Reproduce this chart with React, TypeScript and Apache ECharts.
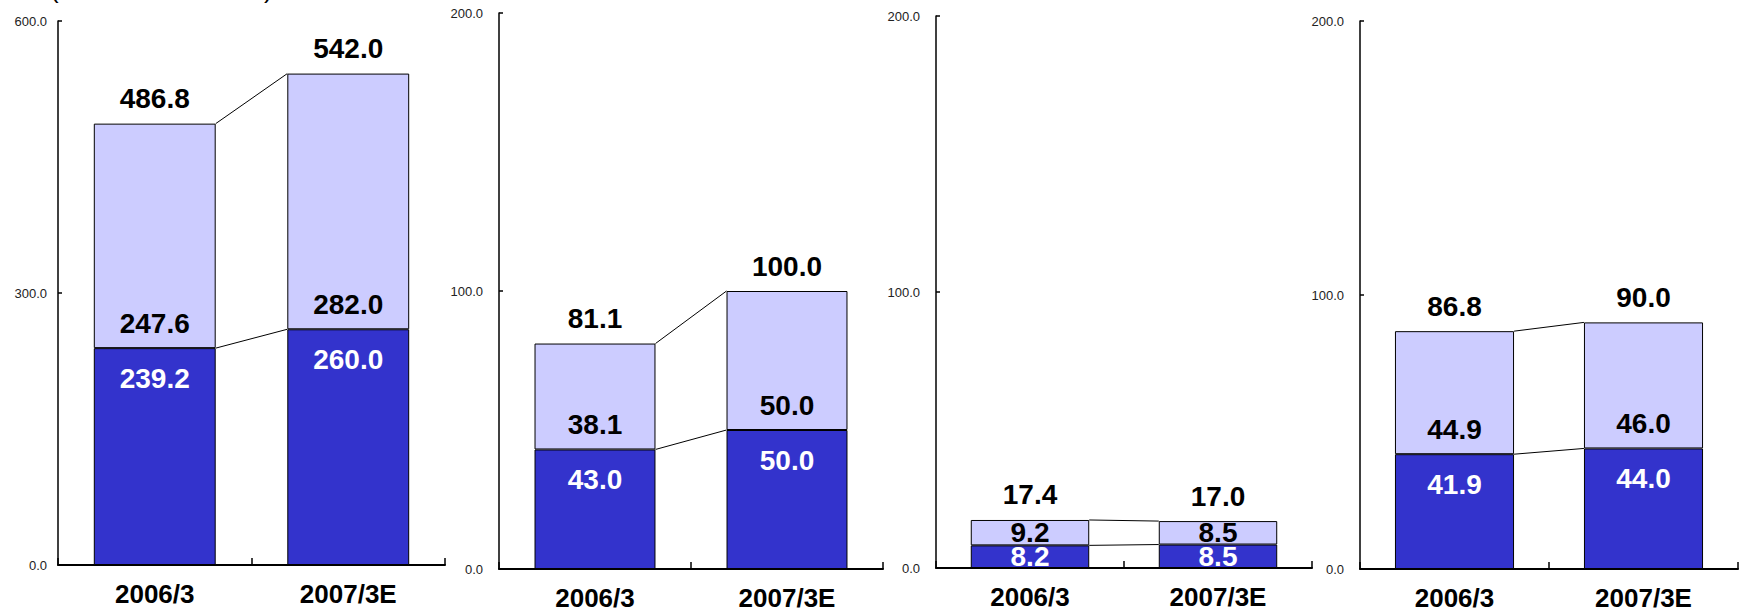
import React, { useEffect, useRef } from "react";
import * as echarts from "echarts";

const categories = ["2006/3", "2007/3E"];

const panel1Lower = [239.2, 260.0];
const panel1Upper = [247.6, 282.0];
const panel1Total = [486.8, 542.0];

const panel2Lower = [43.0, 50.0];
const panel2Upper = [38.1, 50.0];
const panel2Total = [81.1, 100.0];

const panel3Lower = [8.2, 8.5];
const panel3Upper = [9.2, 8.5];
const panel3Total = [17.4, 17.0];

const panel4Lower = [41.9, 44.0];
const panel4Upper = [44.9, 46.0];
const panel4Total = [86.8, 90.0];

const yMaxes = [600, 200, 200, 200];
const yIntervals = [300, 100, 100, 100];

const FONT = "'Liberation Sans', Arial, sans-serif";
const DARK = "#3333CC";
const LIGHT = "#CCCCFF";
const BAR_RATIO = 0.63;

const panels = [
  { lower: panel1Lower, upper: panel1Upper, total: panel1Total, grid: { left: 58, top: 21, width: 387, height: 544 }, yMargin: 11, center: false },
  { lower: panel2Lower, upper: panel2Upper, total: panel2Total, grid: { left: 499, top: 13, width: 384, height: 556 }, yMargin: 16, center: false },
  { lower: panel3Lower, upper: panel3Upper, total: panel3Total, grid: { left: 936, top: 16, width: 376, height: 552 }, yMargin: 16, center: true },
  { lower: panel4Lower, upper: panel4Upper, total: panel4Total, grid: { left: 1360, top: 21, width: 378, height: 548 }, yMargin: 16, center: false },
];

function buildOption() {
  const grid: any[] = [];
  const xAxis: any[] = [];
  const yAxis: any[] = [];
  const series: any[] = [];

  panels.forEach((p, k) => {
    grid.push({ ...p.grid, containLabel: false });
    xAxis.push({
      type: "category",
      gridIndex: k,
      data: categories,
      boundaryGap: true,
      axisLine: { show: true, lineStyle: { color: "#000", width: 2 } },
      axisTick: { show: true, inside: true, length: 7, lineStyle: { color: "#000", width: 1.5 } },
      axisLabel: { color: "#000", fontSize: 26, fontWeight: "bold", fontFamily: FONT, margin: 16 },
      splitLine: { show: false },
    });
    yAxis.push({
      type: "value",
      gridIndex: k,
      min: 0,
      max: yMaxes[k],
      interval: yIntervals[k],
      axisLine: { show: true, lineStyle: { color: "#000", width: 1.5 } },
      axisTick: { show: true, inside: true, length: 4, lineStyle: { color: "#000", width: 1.5 } },
      axisLabel: { color: "#222", fontSize: 13, fontFamily: FONT, margin: p.yMargin, formatter: (v: number) => v.toFixed(1) },
      splitLine: { show: false },
    });

    series.push({
      type: "bar",
      xAxisIndex: k,
      yAxisIndex: k,
      stack: "s" + k,
      barWidth: BAR_RATIO * 100 + "%",
      data: p.lower,
      itemStyle: { color: DARK, borderColor: "#000", borderWidth: 1 },
      label: {
        show: true,
        position: p.center ? "inside" : "insideTop",
        distance: 16,
        color: "#fff",
        fontSize: 28,
        fontWeight: "bold",
        fontFamily: FONT,
        formatter: (d: any) => Number(d.value).toFixed(1),
      },
      z: 2,
    });
    series.push({
      type: "bar",
      xAxisIndex: k,
      yAxisIndex: k,
      stack: "s" + k,
      barWidth: BAR_RATIO * 100 + "%",
      data: p.upper,
      itemStyle: { color: LIGHT, borderColor: "#000", borderWidth: 1 },
      label: {
        show: true,
        position: p.center ? "inside" : "insideBottom",
        distance: 11,
        color: "#000",
        fontSize: 28,
        fontWeight: "bold",
        fontFamily: FONT,
        formatter: (d: any) => Number(d.value).toFixed(1),
      },
      z: 2,
    });
    series.push({
      type: "custom",
      xAxisIndex: k,
      yAxisIndex: k,
      clip: false,
      z: 5,
      data: categories.map((_, i) => [i, p.total[i], p.lower[i]]),
      renderItem: (params: any, api: any) => {
        const i = params.dataIndex;
        const top = api.coord([i, p.total[i]]);
        const band = api.size([1, 0])[0];
        const half = (band * BAR_RATIO) / 2;
        const children: any[] = [
          {
            type: "text",
            style: {
              text: p.total[i].toFixed(1),
              x: top[0],
              y: top[1] - 11,
              align: "center",
              verticalAlign: "bottom",
              font: "bold 28px " + FONT,
              fill: "#000",
            },
          },
        ];
        if (i === 0) {
          const t0 = api.coord([0, p.total[0]]);
          const t1 = api.coord([1, p.total[1]]);
          const l0 = api.coord([0, p.lower[0]]);
          const l1 = api.coord([1, p.lower[1]]);
          children.push({
            type: "line",
            shape: { x1: t0[0] + half, y1: t0[1], x2: t1[0] - half, y2: t1[1] },
            style: { stroke: "#000", lineWidth: 1 },
          });
          children.push({
            type: "line",
            shape: { x1: l0[0] + half, y1: l0[1], x2: l1[0] - half, y2: l1[1] },
            style: { stroke: "#000", lineWidth: 1 },
          });
        }
        return { type: "group", children };
      },
    });
  });

  return {
    animation: false,
    backgroundColor: "#fff",
    textStyle: { fontFamily: FONT },
    grid,
    xAxis,
    yAxis,
    series,
    graphic: [
      { type: "text", left: 50, top: -24, style: { text: "(", font: "26px " + FONT, fill: "#000" } },
      { type: "text", left: 264, top: -24, style: { text: ")", font: "26px " + FONT, fill: "#000" } },
    ],
  };
}

export default function App() {
  const ref = useRef<HTMLDivElement>(null);
  useEffect(() => {
    if (!ref.current) return;
    const chart = echarts.init(ref.current, null, { renderer: "svg" });
    chart.setOption(buildOption() as any);
    return () => chart.dispose();
  }, []);
  return (
    <div
      ref={ref}
      style={{ position: "fixed", left: 0, top: 0, width: 1739, height: 612, background: "#fff" }}
    />
  );
}
